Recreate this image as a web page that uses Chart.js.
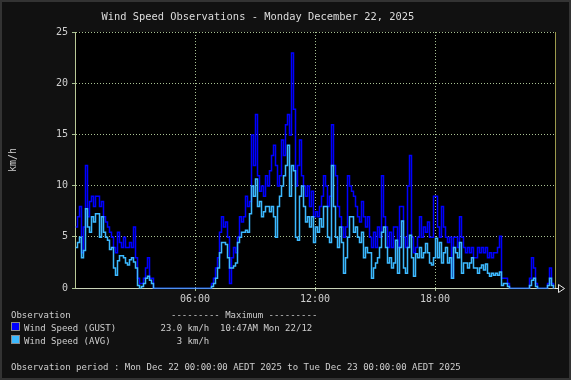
<!DOCTYPE html>
<html>
<head>
<meta charset="utf-8">
<script src="https://cdn.jsdelivr.net/npm/chart.js@4.4.0/dist/chart.umd.min.js"></script>
<style>
  html, body { margin: 0; padding: 0; background: #111; }
</style>
</head>
<body>
<canvas id="windChart" width="571" height="380"></canvas>
<script>
// 6-minute samples, 10 per hour, starting at 00:00
const STEP_HOURS = 0.1;

const gustKmh = [
  6, 7, 8, 3.5, 6, 12, 7, 8.5, 9, 8,            // 00
  9, 9, 8, 8.5, 7, 6.5, 6, 5.5, 5, 4,           // 01
  3.5, 5.5, 4.5, 4, 5, 4, 4, 4.5, 4, 6,         // 02
  3, 1, 0.5, 0.5, 1, 2, 3, 1, 1, 0,             // 03
  0, 0, 0, 0, 0, 0, 0, 0, 0, 0,                 // 04
  0, 0, 0, 0, 0, 0, 0, 0, 0, 0,                 // 05
  0, 0, 0, 0, 0, 0, 0, 0, 0.5, 1,               // 06
  2, 3, 5.5, 7, 6, 6.5, 5, 0.5, 3, 4,           // 07
  3.5, 5, 7, 6.5, 7, 9, 8, 8.5, 15, 12,         // 08
  17, 11, 9.5, 10, 9, 11, 10, 11.5, 13, 14,     // 09
  12, 10, 11, 14.5, 13, 16, 17, 15, 23, 17.5,   // 10
  10, 12, 14.5, 11, 10, 9, 10, 8, 9.5, 7,       // 11
  7.5, 7, 8, 9, 11, 10, 8, 9, 16, 12,           // 12
  11, 8, 7, 6, 5, 6, 11, 10, 9.5, 9,            // 13
  8, 7, 6.5, 8.5, 7, 6, 7, 5, 4, 5.5,           // 14
  4, 6, 5, 11, 7, 6, 4, 5.5, 4, 6,              // 15
  6, 4, 8, 8, 5, 4, 10, 13, 5, 3.5,             // 16
  4, 5, 7, 5, 6, 5.5, 6.5, 5, 5, 9,             // 17
  9, 6, 5, 8, 6, 5, 4.5, 5, 1, 5,               // 18
  5, 4, 7, 5, 4, 3.5, 4, 3.5, 4, 3,             // 19
  3, 4, 3.5, 4, 3.5, 4, 3, 3.5, 3, 3.5,         // 20
  3.5, 4, 5.1, 1, 1, 1, 0.5, 0, 0, 0,           // 21
  0, 0, 0, 0, 0, 0, 0, 1, 3, 2,                 // 22
  0.5, 0, 0, 0, 0, 0, 0.5, 2, 0.5, 0            // 23
];

const avgKmh = [
  4, 4.5, 5, 3, 3.7, 7.8, 6, 5.5, 7, 6.5,       // 00
  7.3, 7.3, 5, 7, 5.5, 5, 4.7, 3.8, 4, 2,       // 01
  1.3, 2.7, 3.2, 3.2, 3, 2.5, 2.3, 2.8, 3, 2.6, // 02
  2, 0.3, 0, 0.2, 0.5, 1, 1.2, 0.8, 0.5, 0,     // 03
  0, 0, 0, 0, 0, 0, 0, 0, 0, 0,                 // 04
  0, 0, 0, 0, 0, 0, 0, 0, 0, 0,                 // 05
  0, 0, 0, 0, 0, 0, 0, 0, 0.2, 0.5,             // 06
  1, 2, 3.5, 4.5, 4.5, 4.3, 3, 2, 2, 2.2,       // 07
  2.5, 4.5, 5, 5.5, 5.5, 5.7, 5.5, 7.3, 10, 9,  // 08
  10.7, 8, 8.5, 7, 7.5, 8, 8, 7.5, 8, 7,        // 09
  5, 8, 9, 10, 11, 12, 14, 9, 12, 11.5,         // 10
  5, 4.7, 9, 10, 8, 6.5, 7, 6, 7, 4.5,          // 11
  6, 5.5, 6.8, 6, 8, 8, 5, 4.5, 12, 8,          // 12
  5, 4, 6, 4.5, 1.5, 3, 5, 7, 7, 5.5,           // 13
  6, 5, 4.5, 5.5, 3, 4, 3.5, 3.5, 1, 2,         // 14
  2.5, 3, 4, 5.5, 6, 4, 2.5, 3, 2, 2.5,         // 15
  4.7, 1.5, 4, 6.6, 2, 1.5, 4, 5.2, 3, 1.2,     // 16
  3.4, 3, 4, 3, 3.5, 4.4, 3.5, 2.5, 2.3, 3,     // 17
  4.9, 3, 4.5, 2.5, 3.5, 4, 2.5, 3, 1, 4,       // 18
  3.5, 3, 4.5, 1.5, 2.5, 2.5, 2, 2.5, 3, 2,     // 19
  2, 1.5, 2, 2.3, 1.8, 2.4, 1.5, 1.2, 1.5, 1.3, // 20
  1.5, 1.3, 1.6, 0.3, 0.5, 0.5, 0.2, 0, 0, 0,   // 21
  0, 0, 0, 0, 0, 0, 0, 0.3, 0.8, 1,             // 22
  0.2, 0, 0, 0, 0, 0, 0.3, 1, 0.3, 0            // 23
];

const xTickHours = [6, 12, 18];
const xTickLabels = ['06:00', '12:00', '18:00'];
const yTickStep = 5;
const yMax = 25;

const titleText = 'Wind Speed Observations - Monday December 22, 2025';
const unitLabel = 'km/h';
const legendRows = [
  { label: 'Wind Speed (GUST)', color: '#0000ff', max: '23.0 km/h  10:47AM Mon 22/12' },
  { label: 'Wind Speed (AVG)',  color: '#3cb9ff', max: '   3 km/h' }
];
const periodText = 'Observation period : Mon Dec 22 00:00:00 AEDT 2025 to Tue Dec 23 00:00:00 AEDT 2025';

const MONO = '"DejaVu Sans Mono", monospace';
const TEXT_COLOR = '#cfcfcf';
const GRID_COLOR = '#a9c294';

const toPoints = arr => arr.map((v, i) => ({ x: i * STEP_HOURS, y: v }));

// background, frame, title and the rrd-style legend underneath
const rrdDecor = {
  id: 'rrdDecor',
  beforeDraw(chart) {
    const { ctx, chartArea: a } = chart;
    ctx.save();
    ctx.fillStyle = '#111111';
    ctx.fillRect(0, 0, chart.width, chart.height);
    ctx.strokeStyle = '#333333';
    ctx.lineWidth = 2;
    ctx.strokeRect(1, 1, chart.width - 2, chart.height - 2);
    ctx.fillStyle = '#000000';
    ctx.fillRect(a.left, a.top, a.right - a.left, a.bottom - a.top);
    ctx.restore();
  },
  // shift the thin lines onto pixel centres so they stay crisp
  beforeDatasetsDraw(chart) {
    chart.ctx.save();
    chart.ctx.translate(0.5, 0.5);
  },
  afterDatasetsDraw(chart) {
    chart.ctx.restore();
  },
  afterDraw(chart) {
    const { ctx, chartArea: a } = chart;
    ctx.save();

    // right edge marker
    ctx.strokeStyle = '#9c9a4c';
    ctx.lineWidth = 1;
    ctx.beginPath();
    ctx.moveTo(a.right + 0.5, a.top);
    ctx.lineTo(a.right + 0.5, a.bottom);
    ctx.stroke();

    // x axis arrow
    ctx.strokeStyle = '#e8e8e8';
    ctx.beginPath();
    ctx.moveTo(a.right, a.bottom + 0.5);
    ctx.lineTo(a.right + 3, a.bottom + 0.5);
    ctx.moveTo(a.right + 3.5, a.bottom - 3.5);
    ctx.lineTo(a.right + 9.5, a.bottom + 0.5);
    ctx.lineTo(a.right + 3.5, a.bottom + 4.5);
    ctx.closePath();
    ctx.stroke();

    ctx.fillStyle = '#dcdcdc';
    ctx.font = '10.4px ' + MONO;
    ctx.textAlign = 'left';
    ctx.textBaseline = 'alphabetic';
    ctx.fillText(titleText, 101.5, 19.5);

    ctx.fillStyle = TEXT_COLOR;
    ctx.font = '10px ' + MONO;
    ctx.save();
    ctx.translate(13, 160);
    ctx.rotate(-Math.PI / 2);
    ctx.textAlign = 'center';
    ctx.textBaseline = 'middle';
    ctx.fillText(unitLabel, 0, 0);
    ctx.restore();

    ctx.font = '9px ' + MONO;
    ctx.fillText('Observation', 11, 318);
    ctx.fillText('--------- Maximum ---------', 171, 318);
    legendRows.forEach((row, i) => {
      const y = 331 + i * 13;
      ctx.fillStyle = row.color;
      ctx.fillRect(11, y - 8, 8, 8);
      ctx.strokeStyle = '#8a8a8a';
      ctx.strokeRect(11.5, y - 8.5, 8, 8);
      ctx.fillStyle = TEXT_COLOR;
      ctx.fillText(row.label, 24, y);
      ctx.fillText(row.max, 160.5, y);
    });
    ctx.fillText(periodText, 11, 370);

    ctx.restore();
  }
};

new Chart(document.getElementById('windChart'), {
  type: 'line',
  data: {
    datasets: [
      {
        label: 'Wind Speed (AVG)',
        data: toPoints(avgKmh),
        borderColor: '#3cb9ff',
        borderWidth: 1.5,
        pointRadius: 0,
        stepped: true,
        order: 1
      },
      {
        label: 'Wind Speed (GUST)',
        data: toPoints(gustKmh),
        borderColor: '#0000ff',
        borderWidth: 1.5,
        pointRadius: 0,
        stepped: true,
        order: 2
      }
    ]
  },
  options: {
    responsive: false,
    animation: false,
    layout: { padding: { top: 32, right: 16, bottom: 72, left: 0 } },
    plugins: {
      legend: { display: false },
      title: { display: false },
      tooltip: { enabled: false }
    },
    scales: {
      x: {
        type: 'linear',
        min: 0,
        max: 24,
        afterBuildTicks: scale => { scale.ticks = xTickHours.map(v => ({ value: v })); },
        afterFit: scale => { scale.height = 20; },
        ticks: {
          color: TEXT_COLOR,
          font: { family: MONO, size: 10 },
          padding: 2,
          maxRotation: 0,
          callback: value => xTickLabels[xTickHours.indexOf(value)]
        },
        grid: { color: GRID_COLOR, lineWidth: 1, tickLength: 3, tickColor: GRID_COLOR },
        border: { color: '#c9d3b8', width: 1, dash: [1, 2] }
      },
      y: {
        min: 0,
        max: yMax,
        afterFit: scale => { scale.width = 75; },
        ticks: {
          stepSize: yTickStep,
          color: TEXT_COLOR,
          font: { family: MONO, size: 10 },
          padding: 4
        },
        grid: { color: GRID_COLOR, lineWidth: 1, tickLength: 3, tickColor: GRID_COLOR },
        border: { color: '#b9c896', width: 1, dash: [1, 2] }
      }
    }
  },
  plugins: [rrdDecor]
});
</script>
</body>
</html>
